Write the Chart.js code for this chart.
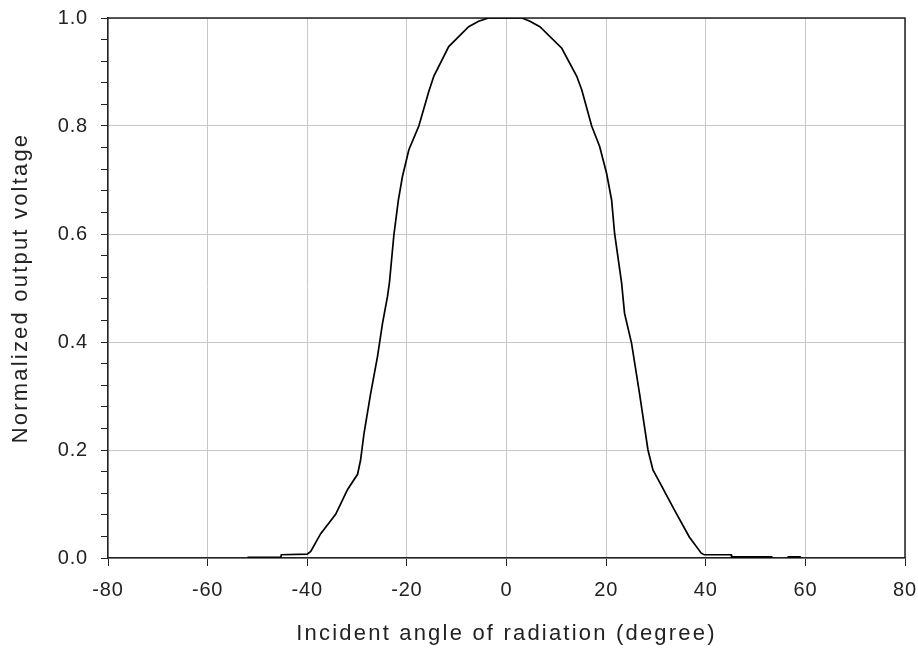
<!DOCTYPE html>
<html>
<head>
<meta charset="utf-8">
<script src="https://cdn.jsdelivr.net/npm/chart.js@4.4.1/dist/chart.umd.min.js"></script>
<style>
  html, body { margin: 0; padding: 0; background: #fff; }
  #wrap { width: 918px; height: 650px; }
</style>
</head>
<body>
<div id="wrap"><canvas id="c" width="918" height="650"></canvas></div>
<script>
// Incident angle (degree)
const angles = [
  -52, -45.3, -45.2, -40, -39.3, -37.3, -34.3, -31.9, -29.9, -29.3, -28.6, -27.3,
  -25.9, -24.9, -23.9, -23.5, -22.6, -21.7, -20.9, -19.6, -17.6, -15.6, -14.6,
  -11.6, -7.6, -5.6, -3.6, 3.1, 4.7, 6.7, 11.1, 14.1, 15.1, 17.1, 18.7, 20.1,
  21.1, 21.7, 23.1, 23.7, 25.1, 26.7, 28.4, 29.4, 30.7, 33.7, 36.7, 39.1, 39.7,
  45.1, 45.2, 53.4, 55, 56.4, 59.1
];
// Normalized output voltage
const voltage = [
  0.001, 0.001, 0.006, 0.007, 0.012, 0.045, 0.081, 0.127, 0.155, 0.181, 0.231, 0.303,
  0.373, 0.434, 0.484, 0.51, 0.599, 0.663, 0.706, 0.756, 0.80, 0.864, 0.892,
  0.947, 0.984, 0.994, 1.0, 1.0, 0.994, 0.984, 0.944, 0.892, 0.867, 0.80, 0.762, 0.712,
  0.663, 0.601, 0.51, 0.453, 0.398, 0.305, 0.20, 0.163, 0.141, 0.089, 0.039, 0.009, 0.006,
  0.006, 0.002, 0.002, null, 0.002, 0.002
];
const xTicks = [-80, -60, -40, -20, 0, 20, 40, 60, 80];
const yTicks = [0.0, 0.2, 0.4, 0.6, 0.8, 1.0];

const points = angles.map((a, i) => ({ x: a, y: voltage[i] }));
const isMajorY = v => yTicks.some(t => Math.abs(t - v) < 1e-6);

const framePlugin = {
  id: 'frame',
  beforeDraw(chart) {
    Object.values(chart.scales).forEach(s => {
      if (s._lsWrapped) return;
      s._lsWrapped = true;
      const dt = s.drawTitle.bind(s);
      const dl = s.drawLabels.bind(s);
      s.drawTitle = function (...args) {
        const c = this.ctx; const p = c.letterSpacing;
        c.letterSpacing = '2.2px'; dt(...args); c.letterSpacing = p;
      };
      s.drawLabels = function (...args) {
        const c = this.ctx; const p = c.letterSpacing;
        c.letterSpacing = '0.8px'; dl(...args); c.letterSpacing = p;
      };
    });
  },
  beforeDatasetsDraw(chart) {
    const { ctx, chartArea: a } = chart;
    ctx.save();
    ctx.strokeStyle = '#222';
    ctx.lineWidth = 1.5;
    ctx.beginPath();
    ctx.moveTo(a.left, a.top);
    ctx.lineTo(a.right, a.top);
    ctx.lineTo(a.right, a.bottom);
    ctx.stroke();
    ctx.restore();
  }
};

const tickFont = { family: '"Liberation Sans", Arial, sans-serif', size: 20 };
const titleFont = { family: '"Liberation Sans", Arial, sans-serif', size: 22 };

new Chart(document.getElementById('c'), {
  type: 'line',
  data: {
    datasets: [{
      data: points,
      borderColor: '#000',
      borderWidth: 1.7,
      pointRadius: 0,
      tension: 0,
      spanGaps: false,
      fill: false
    }]
  },
  options: {
    responsive: false,
    animation: false,
    devicePixelRatio: 1,
    layout: { padding: { top: 18, right: 13, left: 0, bottom: 0 } },
    plugins: { legend: { display: false }, tooltip: { enabled: false } },
    scales: {
      x: {
        type: 'linear',
        min: -80, max: 80,
        afterBuildTicks: s => { s.ticks = xTicks.map(v => ({ value: v })); },
        afterFit: s => { s.height = 92; s.paddingLeft = 0; s.paddingRight = 0; },
        grid: { color: '#c8c8c8', lineWidth: 1, tickColor: '#222', tickLength: 8 },
        border: { color: '#222', width: 1.5 },
        ticks: { font: tickFont, color: '#222', padding: 12, maxRotation: 0,
                 callback: v => String(v) },
        title: { display: true, text: 'Incident angle of radiation (degree)',
                 font: titleFont, color: '#222', padding: { top: 0, bottom: 3 } }
      },
      y: {
        type: 'linear',
        min: 0, max: 1,
        ticks: { stepSize: 0.04, font: tickFont, color: '#222', padding: 13,
                 autoSkip: false,
                 callback: v => isMajorY(v) ? v.toFixed(1) : '' },
        afterFit: s => { s.width = 108; s.paddingTop = 0; s.paddingBottom = 0; },
        grid: {
          color: c => isMajorY(c.tick.value) ? '#c8c8c8' : 'rgba(0,0,0,0)',
          tickColor: '#222', tickLength: 7, lineWidth: 1
        },
        border: { color: '#222', width: 1.5 },
        title: { display: true, text: 'Normalized output voltage',
                 font: titleFont, color: '#222', padding: { top: 8, bottom: 0 } }
      }
    }
  },
  plugins: [framePlugin]
});
</script>
</body>
</html>
